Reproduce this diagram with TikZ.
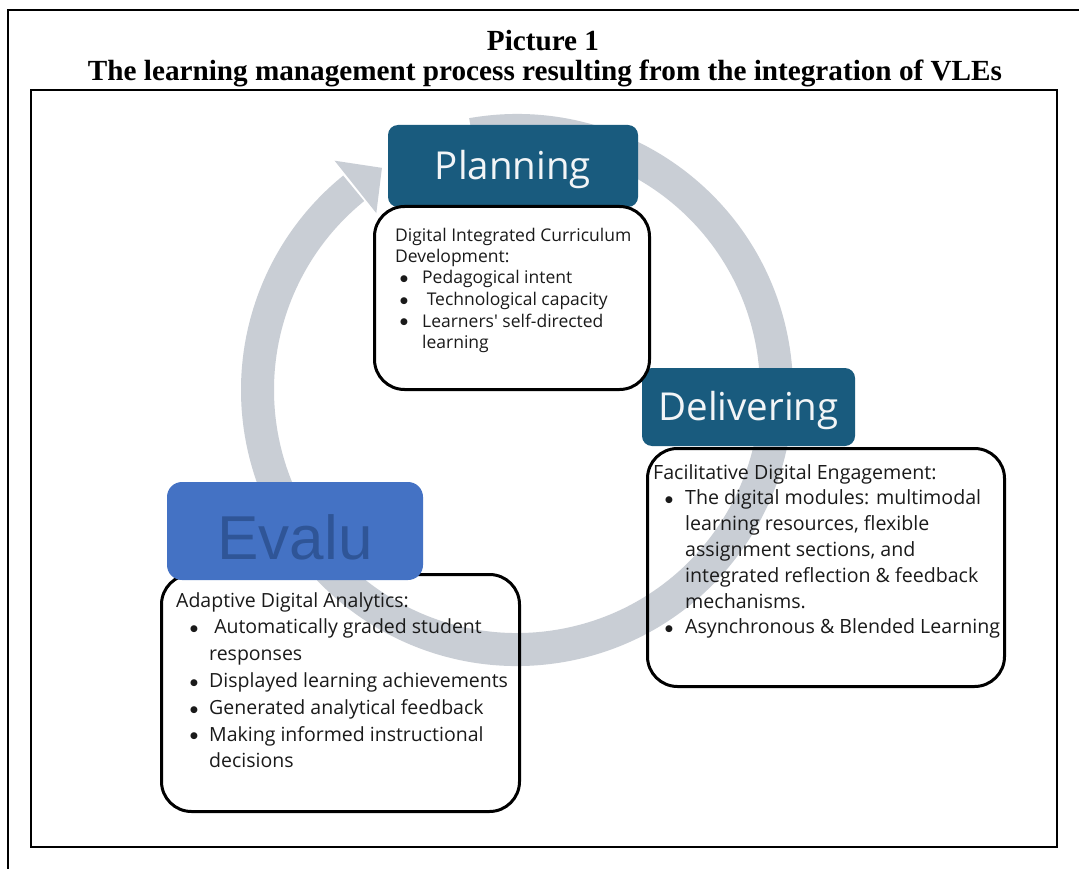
\documentclass[tikz,border=0pt]{standalone}
\usepackage{fontspec}
\setmainfont{Liberation Serif}
\newfontfamily\boxfont{Open Sans}
\newfontfamily\arialfont{Liberation Sans}
\newfontfamily\symfont{DejaVu Sans}
\usetikzlibrary{calc}

\definecolor{ringgray}{HTML}{C9CED5}
\definecolor{stagedark}{HTML}{195B7E}
\definecolor{stagelight}{HTML}{F2F5F7}
\definecolor{evalblue}{HTML}{4472C4}
\definecolor{evaltext}{HTML}{2F5597}
\definecolor{bodyink}{HTML}{1A1A1A}

% bullet with fixed indent: #1 total indent, #2 offset of the dot
\newcommand\bulitem[2]{\makebox[#1][l]{\hspace*{#2}\raisebox{2.2pt}{\symfont\fontsize{9}{9}\selectfont ●}}}

\begin{document}
\begin{tikzpicture}[x=1pt,y=1pt,
  titletext/.style={font=\bfseries\fontsize{29.2}{33}\selectfont, inner sep=0, anchor=base},
  stagebox/.style={fill=stagedark, text=stagelight, rounded corners=10pt, inner sep=0,
    font=\boxfont\fontsize{38.5}{42}\selectfont, text height=27pt, text depth=0pt},
  panel/.style={draw=black, line width=3pt, rounded corners=30pt, inner sep=0},
  bodytext/.style={text=bodyink, inner sep=0, anchor=base west, align=left}
]
\useasboundingbox (0,0) rectangle (1079,-869);
\fill[white] (0,0) rectangle (1079,-869);

% outer page frame (continues past the right and bottom edges)
\draw[line width=2pt] (1090,-10) -- (8,-10) -- (8,-880);

% caption
\node[titletext] (cap1) at (543,-51) {Picture 1};
\node[titletext] (cap2) at (545,-81) {The learning management process resulting from the integration of VLEs};

% figure frame
\draw[line width=2.5pt] (31,-90) rectangle (1057,-847);

% cycle ring with arrow head
\coordinate (c) at (517,-390);
\draw[ringgray, line width=33pt] ($(c)+(100:259.5)$) arc[start angle=100, end angle=-231, radius=259.5];
\fill[ringgray] ($(c)+(128.5:293)$) -- ($(c)+(121.3:260)$) -- ($(c)+(128.5:226)$) -- cycle;

% stage headings
\node[stagebox, minimum width=250pt, minimum height=82pt] (plan) at (513,-166) {Planning};
\node[stagebox, minimum width=213pt, minimum height=78pt] (deliver) at (748.5,-407) {Delivering};

% Planning panel
\node[panel, fill=white, minimum width=275pt, minimum height=183pt, anchor=north west] (planP) at (373,-205) {};
\node[bodytext] (planT) at (395,-241) {\boxfont\fontsize{17.5}{21.5}\selectfont
  \begin{tabular}[t]{@{}l@{}}
  Digital Integrated Curriculum\\
  Development:\\
  \bulitem{27pt}{5pt}Pedagogical intent\\
  \bulitem{27pt}{5pt}\ Technological capacity\\
  \bulitem{27pt}{5pt}Learners' self-directed\\
  \hspace*{27pt}learning
  \end{tabular}};

% Delivering panel
\node[panel, minimum width=357pt, minimum height=238pt, anchor=north west] (delP) at (646,-447) {};
\node[bodytext] (delT) at (653,-479) {\boxfont\fontsize{19.6}{25.8}\selectfont
  \begin{tabular}[t]{@{}l@{}}
  Facilitative Digital Engagement:\\
  \bulitem{32pt}{12pt}The digital modules: multimodal\\
  \hspace*{32pt}learning resources, flexible\\
  \hspace*{32pt}assignment sections, and\\
  \hspace*{32pt}integrated reflection \& feedback\\
  \hspace*{32pt}mechanisms.\\
  \bulitem{32pt}{12pt}Asynchronous \& Blended Learning
  \end{tabular}};

% Evaluating panel
\node[panel, minimum width=358pt, minimum height=237pt, anchor=north west] (evalP) at (160,-573) {};
\node[bodytext] (evalT) at (176,-607) {\boxfont\fontsize{19.5}{26.8}\selectfont
  \begin{tabular}[t]{@{}l@{}}
  Adaptive Digital Analytics:\\
  \bulitem{33pt}{14pt}\ Automatically graded student\\
  \hspace*{33pt}responses\\
  \bulitem{33pt}{14pt}Displayed learning achievements\\
  \bulitem{33pt}{14pt}Generated analytical feedback\\
  \bulitem{33pt}{14pt}Making informed instructional\\
  \hspace*{33pt}decisions
  \end{tabular}};

% Evaluating heading (drawn over its panel)
\node[fill=evalblue, text=evaltext, rounded corners=15pt, inner sep=0,
  minimum width=256pt, minimum height=98pt, text height=57pt, text depth=0pt,
  font=\arialfont\fontsize{62}{66}\selectfont] (evalH) at (295,-531) {Evalu};
\end{tikzpicture}
\end{document}
